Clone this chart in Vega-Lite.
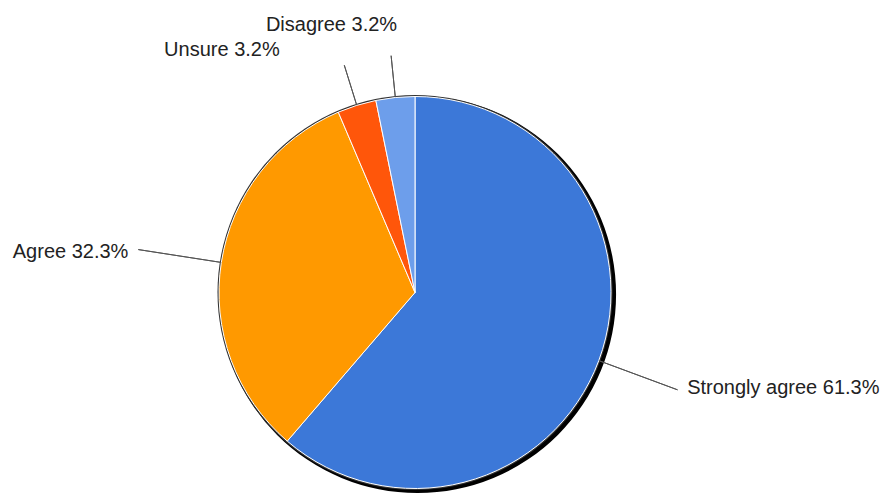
{
  "$schema": "https://vega.github.io/schema/vega-lite/v6.json",
  "width": 830,
  "height": 405,
  "autosize": {"type": "none"},
  "padding": {"left": 0, "top": 90, "right": 58, "bottom": 0},
  "background": "white",
  "view": {"stroke": null},
  "data": {
    "values": [
      {"answer": "Strongly agree", "percent": 61.3},
      {"answer": "Agree", "percent": 32.3},
      {"answer": "Unsure", "percent": 3.2},
      {"answer": "Disagree", "percent": 3.2}
    ]
  },
  "transform": [
    {"window": [{"op": "row_number", "as": "rank"}, {"op": "sum", "field": "percent", "as": "s1"}], "frame": [null, 0]},
    {"calculate": "datum.s1 - datum.percent", "as": "s0"},
    {"calculate": "datum.s1 - datum.percent / 2", "as": "mid"},
    {"calculate": "datum.answer + ' ' + format(datum.percent, '.1f') + '%'", "as": "label"}
  ],
  "layer": [
    {
      "transform": [{"aggregate": [{"op": "sum", "field": "percent", "as": "total"}]}],
      "mark": {"type": "arc", "radius": 198.5, "xOffset": 2.5, "yOffset": 2, "color": "#000000"},
      "encoding": {
        "theta": {"field": "total", "type": "quantitative", "scale": {"domain": [0, 100]}}
      }
    },
    {
      "transform": [{"aggregate": [{"op": "sum", "field": "percent", "as": "total"}]}],
      "mark": {"type": "arc", "radius": 197.5, "color": "#333333"},
      "encoding": {
        "theta": {"field": "total", "type": "quantitative"}
      }
    },
    {
      "mark": {"type": "arc", "radius": 196, "stroke": "#ffffff", "strokeWidth": 1},
      "encoding": {
        "theta": {"field": "s0", "type": "quantitative", "stack": null},
        "theta2": {"field": "s1"},
        "color": {
          "field": "answer",
          "type": "nominal",
          "scale": {
            "domain": ["Strongly agree", "Agree", "Unsure", "Disagree"],
            "range": ["#3c78d8", "#ff9900", "#ff560a", "#6d9eeb"]
          },
          "legend": null
        }
      }
    },
    {
      "transform": [{"filter": "datum.answer === 'Strongly agree' || datum.answer === 'Agree'"}],
      "mark": {"type": "arc", "radius": 280, "radius2": 197, "fillOpacity": 0, "stroke": "#555555", "strokeWidth": 1},
      "encoding": {
        "theta": {"field": "mid", "type": "quantitative", "stack": null},
        "theta2": {"field": "mid"}
      }
    },
    {
      "transform": [{"filter": "datum.answer === 'Unsure' || datum.answer === 'Disagree'"}],
      "mark": {"type": "arc", "radius": 238, "radius2": 197, "fillOpacity": 0, "stroke": "#555555", "strokeWidth": 1},
      "encoding": {
        "theta": {"field": "mid", "type": "quantitative", "stack": null},
        "theta2": {"field": "mid"}
      }
    },
    {
      "transform": [{"filter": "datum.answer === 'Strongly agree'"}],
      "mark": {"type": "text", "radius": 286, "align": "left", "baseline": "middle", "dx": 4, "dy": -4, "font": "Liberation Sans", "fontSize": 20, "color": "#222222"},
      "encoding": {
        "theta": {"field": "mid", "type": "quantitative", "stack": null},
        "text": {"field": "label"}
      }
    },
    {
      "transform": [{"filter": "datum.answer === 'Agree'"}],
      "mark": {"type": "text", "radius": 287, "align": "right", "baseline": "middle", "dx": -3, "dy": 4, "font": "Liberation Sans", "fontSize": 20, "color": "#222222"},
      "encoding": {
        "theta": {"field": "mid", "type": "quantitative", "stack": null},
        "text": {"field": "label"}
      }
    },
    {
      "transform": [{"filter": "datum.answer === 'Unsure'"}],
      "mark": {"type": "text", "radius": 250, "align": "right", "baseline": "middle", "dx": -61, "dy": -4, "font": "Liberation Sans", "fontSize": 20, "color": "#222222"},
      "encoding": {
        "theta": {"field": "mid", "type": "quantitative", "stack": null},
        "text": {"field": "label"}
      }
    },
    {
      "transform": [{"filter": "datum.answer === 'Disagree'"}],
      "mark": {"type": "text", "radius": 268, "align": "right", "baseline": "middle", "dx": 9, "dy": -1, "font": "Liberation Sans", "fontSize": 20, "color": "#222222"},
      "encoding": {
        "theta": {"field": "mid", "type": "quantitative", "stack": null},
        "text": {"field": "label"}
      }
    }
  ]
}
